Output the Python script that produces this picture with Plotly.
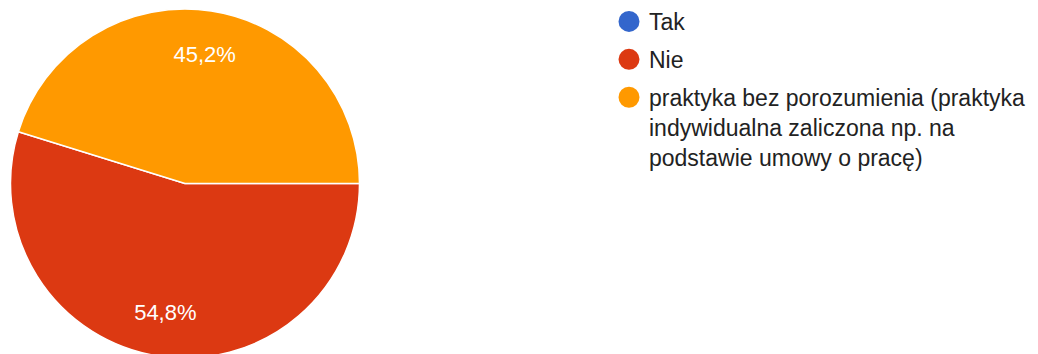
import plotly.graph_objects as go

labels = ["Tak", "Nie", "praktyka bez porozumienia (praktyka<br>indywidualna zaliczona np. na<br>podstawie umowy o pracę)"]
values = [0.0, 54.8, 45.2]
colors = ["#3366cc", "#dc3912", "#ff9900"]

W, H = 1038, 366
FONT = "Liberation Sans, Arial, sans-serif"
pie_domain = dict(x=[10 / W, 360 / W], y=[0, 1])

fig = go.Figure()
# filled pie
fig.add_trace(go.Pie(
    labels=labels, values=values, sort=False,
    direction="clockwise", rotation=90,
    marker=dict(colors=colors, line=dict(color="white", width=1.5)),
    textinfo="none", showlegend=False,
    hoverinfo="label+percent",
    domain=pie_domain,
))
# transparent ring carrying the percentage labels (places them near the rim)
fig.add_trace(go.Pie(
    labels=labels, values=values, sort=False,
    direction="clockwise", rotation=90, hole=0.5,
    marker=dict(colors=["rgba(0,0,0,0)"] * len(values), line=dict(width=0)),
    texttemplate="%{percent:.1%}",
    textposition="inside",
    insidetextorientation="horizontal",
    insidetextfont=dict(color="white", size=22, family=FONT),
    showlegend=False, hoverinfo="skip",
    domain=pie_domain,
))

for i, (lab, col) in enumerate(zip(labels, colors)):
    fig.add_trace(go.Scatter(
        x=[None], y=[None], mode="markers", name=lab,
        legendgroup=f"g{i}",
        marker=dict(symbol="circle", size=16, color=col,
                    line=dict(color=col, width=5)),
        showlegend=True,
    ))

fig.update_layout(
    width=W, height=H,
    margin=dict(l=0, r=0, t=8, b=8),
    paper_bgcolor="white",
    plot_bgcolor="white",
    separators=", ",
    font=dict(family=FONT, size=23, color="#222222"),
    xaxis=dict(visible=False),
    yaxis=dict(visible=False),
    legend=dict(
        x=609 / W, y=1.025, xanchor="left", yanchor="top",
        traceorder="grouped", valign="top",
        font=dict(family=FONT, size=23, color="#222222"),
        itemsizing="trace",
        tracegroupgap=5,
        bgcolor="rgba(0,0,0,0)",
    ),
)

fig.write_html("out.html", config={"displayModeBar": False},
               post_script="document.body.style.margin='0';document.body.style.overflow='hidden';")
